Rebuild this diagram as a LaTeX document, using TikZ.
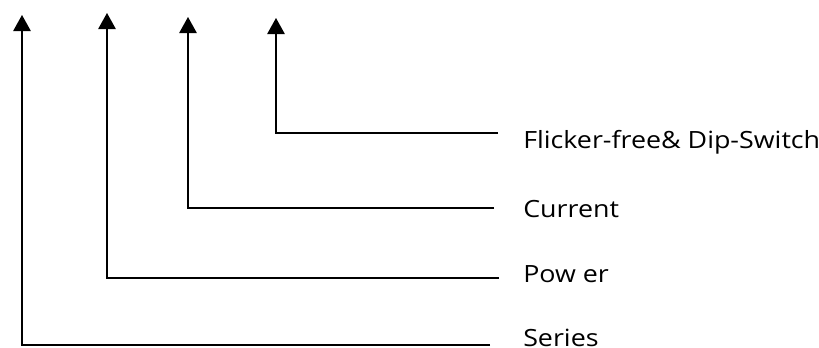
\documentclass[tikz,border=0pt]{standalone}
\usepackage{fontspec}
\setmainfont{Open Sans}[FakeStretch=1.13]
\usetikzlibrary{arrows.meta}

\begin{document}
\begin{tikzpicture}[x=0.75pt,y=-0.75pt,
  lbl/.style={anchor=base west, inner sep=0pt, font=\fontsize{17.8}{21}\selectfont},
  arr/.style={-{Triangle[width=13pt,length=12pt]}, line width=1.2pt}]
\useasboundingbox (0,0) rectangle (819,347);

\node[lbl] (L4) at (523,148) {Flicker-free\& Dip-Switch};
\node[lbl] (L3) at (523,217) {Current};
\node[lbl] (L2) at (523,282) {Pow er};
\node[lbl] (L1) at (523,346) {Series};

\coordinate (E4) at (498,133);
\coordinate (C4) at (276,133);
\coordinate (T4) at (276,18);
\coordinate (E3) at (494,208);
\coordinate (C3) at (188,208);
\coordinate (T3) at (188,17);
\coordinate (E2) at (499,278);
\coordinate (C2) at (107,278);
\coordinate (T2) at (107,13);
\coordinate (E1) at (490,345);
\coordinate (C1) at (22,345);
\coordinate (T1) at (22,15);

\draw[arr] (E4) -- (C4) -- (T4);
\draw[arr] (E3) -- (C3) -- (T3);
\draw[arr] (E2) -- (C2) -- (T2);
\draw[arr] (E1) -- (C1) -- (T1);

\end{tikzpicture}
\end{document}
